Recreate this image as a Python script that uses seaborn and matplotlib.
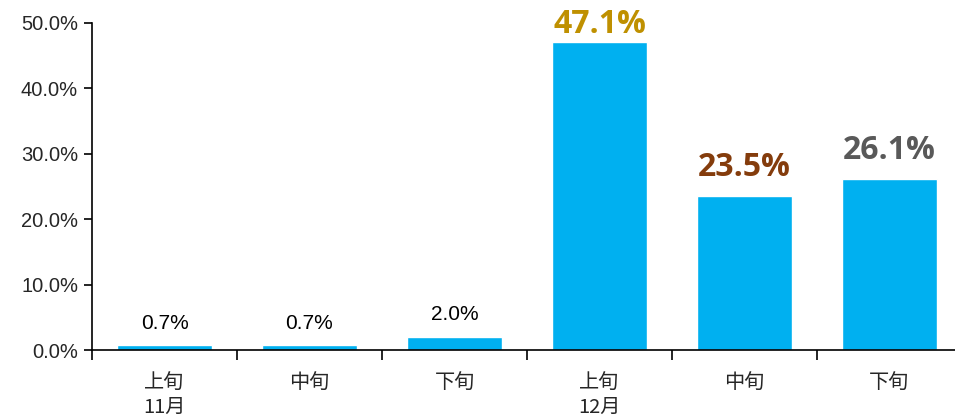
import matplotlib
matplotlib.use("Agg")
import matplotlib.pyplot as plt
import seaborn as sns
import pandas as pd
import numpy as np

periods = ["上旬", "中旬", "下旬", "上旬", "中旬", "下旬"]
months = ["11月", "", "", "12月", "", ""]
values = [0.7, 0.7, 2.0, 47.1, 23.5, 26.1]
label_colors = ["#000000", "#000000", "#000000", "#BF9000", "#843C0C", "#595959"]
label_bold = [False, False, False, True, True, True]
label_offsets = [9, 9, 9, 1, 9, 9]
y_ticks = [0, 10, 20, 30, 40, 50]

sns.set_theme(style="white")
plt.rcParams["font.family"] = ["Noto Sans CJK SC", "DejaVu Sans"]

df = pd.DataFrame({"idx": [str(i) for i in range(len(values))], "value": values})

fig = plt.figure(figsize=(9.55, 4.17), dpi=100)
ax = fig.add_axes([92 / 955, (417 - 350) / 417, 870 / 955, (350 - 23) / 417])
sns.barplot(data=df, x="idx", y="value", color="#00B0F0", saturation=1, width=0.66, ax=ax)

ax.set_ylim(0, 50)
ax.set_xlim(-0.5, len(values) - 0.5)
ax.set_yticks(y_ticks)
ax.set_yticklabels([f"{t:.1f}%" for t in y_ticks], fontsize=14.5, family=["Liberation Sans", "DejaVu Sans"])
ax.tick_params(axis="y", direction="out", length=6, width=1.2, color="black", left=True, pad=4)
ax.set_xlabel("")
ax.set_ylabel("")
ax.set_xticks(range(len(values)))
ax.set_xticklabels([])
ax.set_xticks(np.arange(-0.5, len(values), 1.0), minor=True)
ax.tick_params(axis="x", which="major", length=0)
ax.tick_params(axis="x", which="minor", direction="out", length=7, width=1.2, color="black", bottom=True)
for s in ["top", "right"]:
    ax.spines[s].set_visible(False)
for s in ["left", "bottom"]:
    ax.spines[s].set_visible(True)
    ax.spines[s].set_color("black")
    ax.spines[s].set_linewidth(1.2)

for i, (p, m) in enumerate(zip(periods, months)):
    ax.text(i, -0.1, p, transform=ax.get_xaxis_transform(), ha="center", va="center", fontsize=14.5)
    if m:
        ax.text(i, -0.175, m, transform=ax.get_xaxis_transform(), ha="center", va="center", fontsize=14.5)

for i, v in enumerate(values):
    if label_bold[i]:
        ax.annotate(f"{v:.1f}%", (i, v), xytext=(0, label_offsets[i]), textcoords="offset points",
                    ha="center", va="bottom", fontsize=23, fontweight="bold",
                    color=label_colors[i], family=["Open Sans", "DejaVu Sans"])
    else:
        ax.annotate(f"{v:.1f}%", (i, v), xytext=(0, label_offsets[i]), textcoords="offset points",
                    ha="center", va="bottom", fontsize=15, color=label_colors[i],
                    family=["Liberation Sans", "DejaVu Sans"])

fig.savefig("out.png", dpi=100)
